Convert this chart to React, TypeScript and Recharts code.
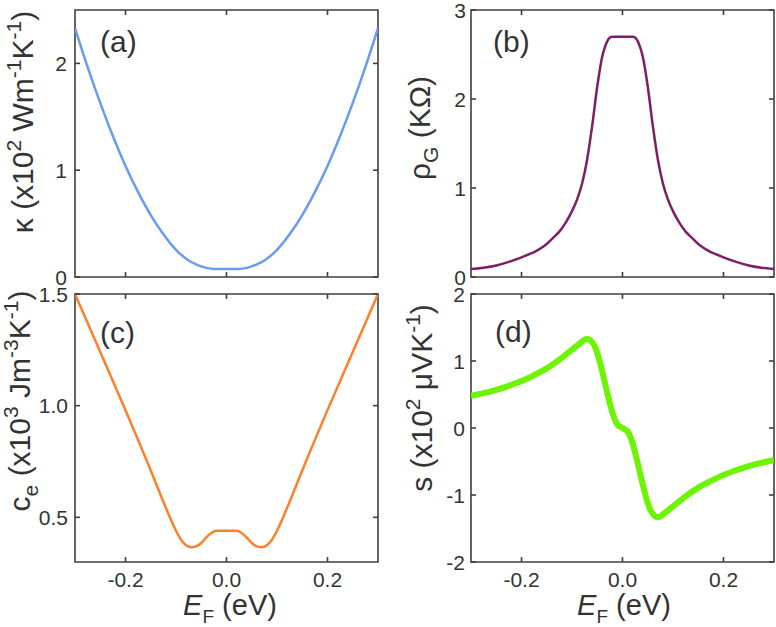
import React from "react";
import { LineChart, Line, XAxis, YAxis, ReferenceArea } from "recharts";

const FONT = "'Liberation Sans', Arial, sans-serif";
const INK = "#333";
const FRAME = "#3f3f3f";

// (a) thermal conductivity
const kappaEnergy = [-0.3, -0.275, -0.25, -0.225, -0.2, -0.175, -0.15, -0.125, -0.1, -0.075, -0.0625, -0.05, -0.0375, -0.025, -0.0125, 0, 0.0125, 0.025, 0.0375, 0.05, 0.0625, 0.075, 0.1, 0.125, 0.15, 0.175, 0.2, 0.225, 0.25, 0.275, 0.3];
const kappaValues = [2.33, 1.965, 1.63, 1.32, 1.04, 0.795, 0.58, 0.4, 0.255, 0.155, 0.124, 0.099, 0.083, 0.076, 0.075, 0.075, 0.075, 0.076, 0.083, 0.099, 0.124, 0.155, 0.255, 0.4, 0.58, 0.795, 1.04, 1.32, 1.63, 1.965, 2.33];

// (b) resistivity
const rhoEnergy = [-0.3, -0.275, -0.25, -0.225, -0.2, -0.1875, -0.175, -0.1625, -0.15, -0.1375, -0.125, -0.1125, -0.1, -0.09, -0.08, -0.07, -0.06, -0.05, -0.04, -0.035, -0.03, -0.025, -0.02, 0, 0.02, 0.025, 0.03, 0.035, 0.04, 0.05, 0.06, 0.07, 0.08, 0.09, 0.1, 0.1125, 0.125, 0.1375, 0.15, 0.1625, 0.175, 0.1875, 0.2, 0.225, 0.25, 0.275, 0.3];
const rhoValues = [0.09, 0.105, 0.13, 0.17, 0.22, 0.25, 0.28, 0.32, 0.37, 0.44, 0.51, 0.61, 0.74, 0.87, 1.05, 1.32, 1.7, 2.14, 2.48, 2.58, 2.65, 2.69, 2.7, 2.7, 2.7, 2.69, 2.65, 2.58, 2.48, 2.14, 1.7, 1.32, 1.05, 0.87, 0.74, 0.61, 0.51, 0.44, 0.37, 0.32, 0.28, 0.25, 0.22, 0.17, 0.13, 0.105, 0.09];

// (c) electronic heat capacity
const ceEnergy = [-0.3, -0.25, -0.2, -0.15, -0.125, -0.1, -0.09, -0.08, -0.07, -0.06, -0.05, -0.04, -0.03, -0.02, 0, 0.02, 0.03, 0.04, 0.05, 0.06, 0.07, 0.08, 0.09, 0.1, 0.125, 0.15, 0.2, 0.25, 0.3];
const ceValues = [1.5, 1.24, 0.98, 0.71, 0.57, 0.44, 0.4, 0.375, 0.366, 0.37, 0.385, 0.41, 0.43, 0.44, 0.44, 0.44, 0.43, 0.41, 0.385, 0.37, 0.366, 0.375, 0.4, 0.44, 0.57, 0.71, 0.98, 1.24, 1.5];

// (d) Seebeck coefficient
const sEnergy = [-0.3, -0.275, -0.25, -0.225, -0.2, -0.175, -0.15, -0.125, -0.1, -0.09, -0.08, -0.075, -0.07, -0.065, -0.06, -0.055, -0.05, -0.045, -0.04, -0.035, -0.03, -0.025, -0.02, -0.015, -0.01, -0.005, 0, 0.005, 0.01, 0.015, 0.02, 0.025, 0.03, 0.035, 0.04, 0.045, 0.05, 0.055, 0.06, 0.065, 0.07, 0.075, 0.08, 0.09, 0.1, 0.125, 0.15, 0.175, 0.2, 0.225, 0.25, 0.275, 0.3];
const sValues = [0.48, 0.52, 0.57, 0.63, 0.7, 0.79, 0.89, 1.02, 1.17, 1.23, 1.29, 1.32, 1.33, 1.32, 1.28, 1.22, 1.12, 0.99, 0.84, 0.68, 0.52, 0.37, 0.23, 0.12, 0.05, 0.022, 0, -0.022, -0.05, -0.12, -0.23, -0.37, -0.52, -0.68, -0.84, -0.99, -1.12, -1.22, -1.28, -1.32, -1.33, -1.32, -1.29, -1.23, -1.17, -1.02, -0.89, -0.79, -0.7, -0.63, -0.57, -0.52, -0.48];

const energyTicks = [-0.2, 0, 0.2];
const kappaTicks = [0, 1, 2];
const rhoTicks = [0, 1, 2, 3];
const ceTicks = [0.5, 1.0, 1.5];
const sTicks = [-2, -1, 0, 1, 2];

const toRows = (xs: number[], ys: number[]) => xs.map((e, i) => ({ e, v: ys[i] }));

type Box = { left: number; right: number; top: number; bottom: number };

const textStyle = { fill: INK, fontFamily: FONT };

type PanelProps = {
  data: { e: number; v: number }[];
  color: string;
  lineWidth: number;
  yDomain: [number, number];
  yTicks: number[];
  yFormat?: (v: number) => string;
  box: Box;
  yGap: number;
  bottomLabels: boolean;
  children?: React.ReactNode;
};

function Panel(p: PanelProps) {
  const { box } = p;
  const fmtY = p.yFormat || ((v: number) => String(v));

  // inward ticks on bottom and top edges (+ labels under the bottom one)
  const renderXTick = (props: any) => {
    const { x, payload } = props;
    return (
      <g>
        <line x1={x} x2={x} y1={box.bottom} y2={box.bottom - 5} stroke={FRAME} strokeWidth={1.6} />
        <line x1={x} x2={x} y1={box.top} y2={box.top + 5} stroke={FRAME} strokeWidth={1.6} />
        {p.bottomLabels && (
          <text x={x} y={box.bottom + 25} textAnchor="middle" fontSize={21} style={textStyle}>
            {payload.value.toFixed(1)}
          </text>
        )}
      </g>
    );
  };

  // inward ticks on left and right edges
  const renderYTick = (props: any) => {
    const { y, payload } = props;
    return (
      <g>
        <line x1={box.left} x2={box.left + 5} y1={y} y2={y} stroke={FRAME} strokeWidth={1.6} />
        <line x1={box.right} x2={box.right - 5} y1={y} y2={y} stroke={FRAME} strokeWidth={1.6} />
        <text x={box.left - p.yGap} y={y + 7.5} textAnchor="end" fontSize={21} style={textStyle}>
          {fmtY(payload.value)}
        </text>
      </g>
    );
  };

  return (
    <div style={{ position: "absolute", left: 0, top: 0 }}>
      <LineChart
        width={776}
        height={627}
        data={p.data}
        margin={{ top: box.top, left: box.left - 1, right: 776 - box.right, bottom: 627 - box.bottom - 1 }}
      >
        <XAxis
          dataKey="e"
          type="number"
          domain={[-0.3, 0.3]}
          ticks={energyTicks}
          interval={0}
          allowDataOverflow
          height={1}
          tick={renderXTick}
          tickLine={false}
          axisLine={false}
          tickSize={0}
        />
        <YAxis
          type="number"
          domain={p.yDomain}
          ticks={p.yTicks}
          interval={0}
          allowDataOverflow
          width={1}
          tick={renderYTick}
          tickLine={false}
          axisLine={false}
          tickSize={0}
        />
        <ReferenceArea
          x1={-0.3}
          x2={0.3}
          y1={p.yDomain[0]}
          y2={p.yDomain[1]}
          fill="none"
          fillOpacity={0}
          stroke={FRAME}
          strokeWidth={1.6}
          ifOverflow="visible"
        />
        <Line
          type="monotone"
          dataKey="v"
          stroke={p.color}
          strokeWidth={p.lineWidth}
          dot={false}
          activeDot={false}
          isAnimationActive={false}
        />
        {p.children}
      </LineChart>
    </div>
  );
}

const tagStyle = { fill: INK, fontSize: 30, fontFamily: FONT };
const labelStyle = { fill: INK, fontSize: 30, fontFamily: FONT };
const SUP = 21;

function EnergyLabel({ x }: { x: number }) {
  return (
    <text x={x} y={615} textAnchor="middle" style={{ ...labelStyle, fontSize: 29 }}>
      <tspan fontStyle="italic">E</tspan>
      <tspan dy={8} fontSize={19}>F</tspan>
      <tspan dy={-8}> (eV)</tspan>
    </text>
  );
}

export default function App() {
  return (
    <div style={{ position: "absolute", left: 0, top: 0, width: 776, height: 627, background: "#fff" }}>
      <Panel
        data={toRows(kappaEnergy, kappaValues)}
        color="#6a9af2"
        lineWidth={2.5}
        yDomain={[0, 2.5]}
        yTicks={kappaTicks}
        box={{ left: 75, right: 378, top: 10, bottom: 277 }}
        yGap={8}
        bottomLabels={false}
      >
        <text x={100} y={52} style={tagStyle}>(a)</text>
        <text transform="translate(33,122) rotate(-90)" textAnchor="middle" style={labelStyle}>
          κ (x10<tspan dy={-12} fontSize={SUP}>2</tspan>
          <tspan dy={12}> Wm</tspan>
          <tspan dy={-12} fontSize={SUP}>-1</tspan>
          <tspan dy={12}>K</tspan>
          <tspan dy={-12} fontSize={SUP}>-1</tspan>
          <tspan dy={12}>)</tspan>
        </text>
      </Panel>

      <Panel
        data={toRows(rhoEnergy, rhoValues)}
        color="#7e1f66"
        lineWidth={2.5}
        yDomain={[0, 3]}
        yTicks={rhoTicks}
        box={{ left: 471, right: 774, top: 10, bottom: 277 }}
        yGap={5}
        bottomLabels={false}
      >
        <text x={493} y={52} style={tagStyle}>(b)</text>
        <text transform="translate(430,128) rotate(-90)" textAnchor="middle" style={labelStyle}>
          ρ<tspan dy={8} fontSize={SUP}>G</tspan>
          <tspan dy={-8}> (KΩ)</tspan>
        </text>
      </Panel>

      <Panel
        data={toRows(ceEnergy, ceValues)}
        color="#ff7f2a"
        lineWidth={2.5}
        yDomain={[0.3, 1.5]}
        yTicks={ceTicks}
        yFormat={(v: number) => v.toFixed(1)}
        box={{ left: 75, right: 378, top: 294, bottom: 562 }}
        yGap={7}
        bottomLabels
      >
        <text x={100} y={343} style={tagStyle}>(c)</text>
        <text transform="translate(30,401) rotate(-90)" textAnchor="middle" style={labelStyle}>
          c<tspan dy={8} fontSize={SUP}>e</tspan>
          <tspan dy={-8}> (x10</tspan>
          <tspan dy={-12} fontSize={SUP}>3</tspan>
          <tspan dy={12}> Jm</tspan>
          <tspan dy={-12} fontSize={SUP}>-3</tspan>
          <tspan dy={12}>K</tspan>
          <tspan dy={-12} fontSize={SUP}>-1</tspan>
          <tspan dy={12}>)</tspan>
        </text>
        <EnergyLabel x={230} />
      </Panel>

      <Panel
        data={toRows(sEnergy, sValues)}
        color="#6bf500"
        lineWidth={6}
        yDomain={[-2, 2]}
        yTicks={sTicks}
        box={{ left: 471, right: 774, top: 294, bottom: 562 }}
        yGap={6}
        bottomLabels
      >
        <text x={495} y={342} style={tagStyle}>(d)</text>
        <text transform="translate(432,398) rotate(-90)" textAnchor="middle" style={labelStyle}>
          s (x10<tspan dy={-12} fontSize={SUP}>2</tspan>
          <tspan dy={12}> μVK</tspan>
          <tspan dy={-12} fontSize={SUP}>-1</tspan>
          <tspan dy={12}>)</tspan>
        </text>
        <EnergyLabel x={624} />
      </Panel>
    </div>
  );
}
